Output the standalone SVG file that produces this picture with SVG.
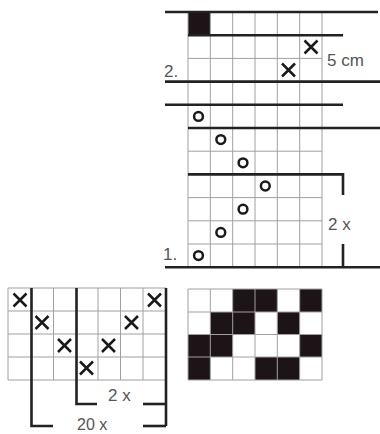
<svg xmlns="http://www.w3.org/2000/svg" width="380" height="434" viewBox="0 0 380 434">
<defs>
<style>
.g{stroke:#a0a0a0;stroke-width:1;fill:none}
.t{stroke:#222;stroke-width:2.6;fill:none;stroke-linecap:butt}
.x{stroke:#1a1a1a;stroke-width:2.5;fill:none}
.o{stroke:#1a1a1a;stroke-width:2.5;fill:none}
.b{fill:#1c1416}
.lbl{font-family:"Liberation Sans",Arial,sans-serif;font-size:17px;fill:#555}
</style>
<path id="xm" d="M-6.5,-6.5L6.5,6.5M6.5,-6.5L-6.5,6.5" class="x"/>
</defs>
<rect width="380" height="434" fill="#fff"/>

<g id="chart-top">
<rect class="b" x="188" y="12" width="22.3" height="23.2"/>
<g class="g">
<path d="M188,12V267M210.3,12V267M232.7,12V267M255,12V267M277.3,12V267M299.7,12V267M322,12V267"/>
<path d="M188,58.4H322M188,151.2H322M188,197.6H322M188,220.8H322M188,244H322"/>
</g>
<g class="t">
<path d="M165,12H378"/>
<path d="M188,35.2H343"/>
<path d="M165,81.6H380"/>
<path d="M165,104.8H343"/>
<path d="M188,128H380"/>
<path d="M188,174.4H343V195"/>
<path d="M343,244V267.2"/>
<path d="M165,267.2H380"/>
</g>
<use href="#xm" x="311" y="47"/>
<use href="#xm" x="288.5" y="70"/>
<g class="o">
<circle cx="198.5" cy="116.4" r="4.4"/>
<circle cx="220.8" cy="139.6" r="4.4"/>
<circle cx="243" cy="162.8" r="4.4"/>
<circle cx="265.3" cy="186" r="4.4"/>
<circle cx="243" cy="209.2" r="4.4"/>
<circle cx="220.8" cy="232.4" r="4.4"/>
<circle cx="198.5" cy="255.6" r="4.4"/>
</g>
<text class="lbl" x="164" y="77">2.</text>
<text class="lbl" x="327" y="66">5 cm</text>
<text class="lbl" x="328" y="230">2 x</text>
<text class="lbl" x="163" y="260">1.</text>
</g>

<g id="chart-bottom-left">
<g class="g">
<path d="M8,288V380M53.5,288V380M98,288V380M120.5,288V380M143,288V380"/>
<path d="M8,288H166M8,311H166M8,334H166M8,357H166M8,380H166"/>
</g>
<g class="t">
<path d="M31.5,288V426H53"/>
<path d="M76.5,288V404H97"/>
<path d="M143,404H166"/>
<path d="M143,426H166"/>
<path d="M166,288V426"/>
</g>
<use href="#xm" x="20" y="300"/>
<use href="#xm" x="154.5" y="300"/>
<use href="#xm" x="42" y="322.5"/>
<use href="#xm" x="131.5" y="322.5"/>
<use href="#xm" x="64.5" y="345.5"/>
<use href="#xm" x="108.5" y="345.5"/>
<use href="#xm" x="86.5" y="368"/>
<text class="lbl" x="108" y="401">2 x</text>
<text class="lbl" x="77" y="430" style="font-size:16px">20 x</text>
</g>

<g id="chart-bottom-right">
<g class="b">
<rect x="232.7" y="289" width="44.6" height="23"/>
<rect x="299.7" y="289" width="22.3" height="23"/>
<rect x="210.3" y="312" width="44.7" height="22.5"/>
<rect x="277.3" y="312" width="22.4" height="22.5"/>
<rect x="188" y="334.5" width="44.7" height="22.5"/>
<rect x="299.7" y="334.5" width="22.3" height="22.5"/>
<rect x="188" y="357" width="22.3" height="23"/>
<rect x="255" y="357" width="44.7" height="23"/>
</g>
<g class="g">
<path d="M188,289V380M210.3,289V380M232.7,289V380M255,289V380M277.3,289V380M299.7,289V380M322,289V380"/>
<path d="M188,289H322M188,312H322M188,334.5H322M188,357H322M188,380H322"/>
</g>
</g>
</svg>
